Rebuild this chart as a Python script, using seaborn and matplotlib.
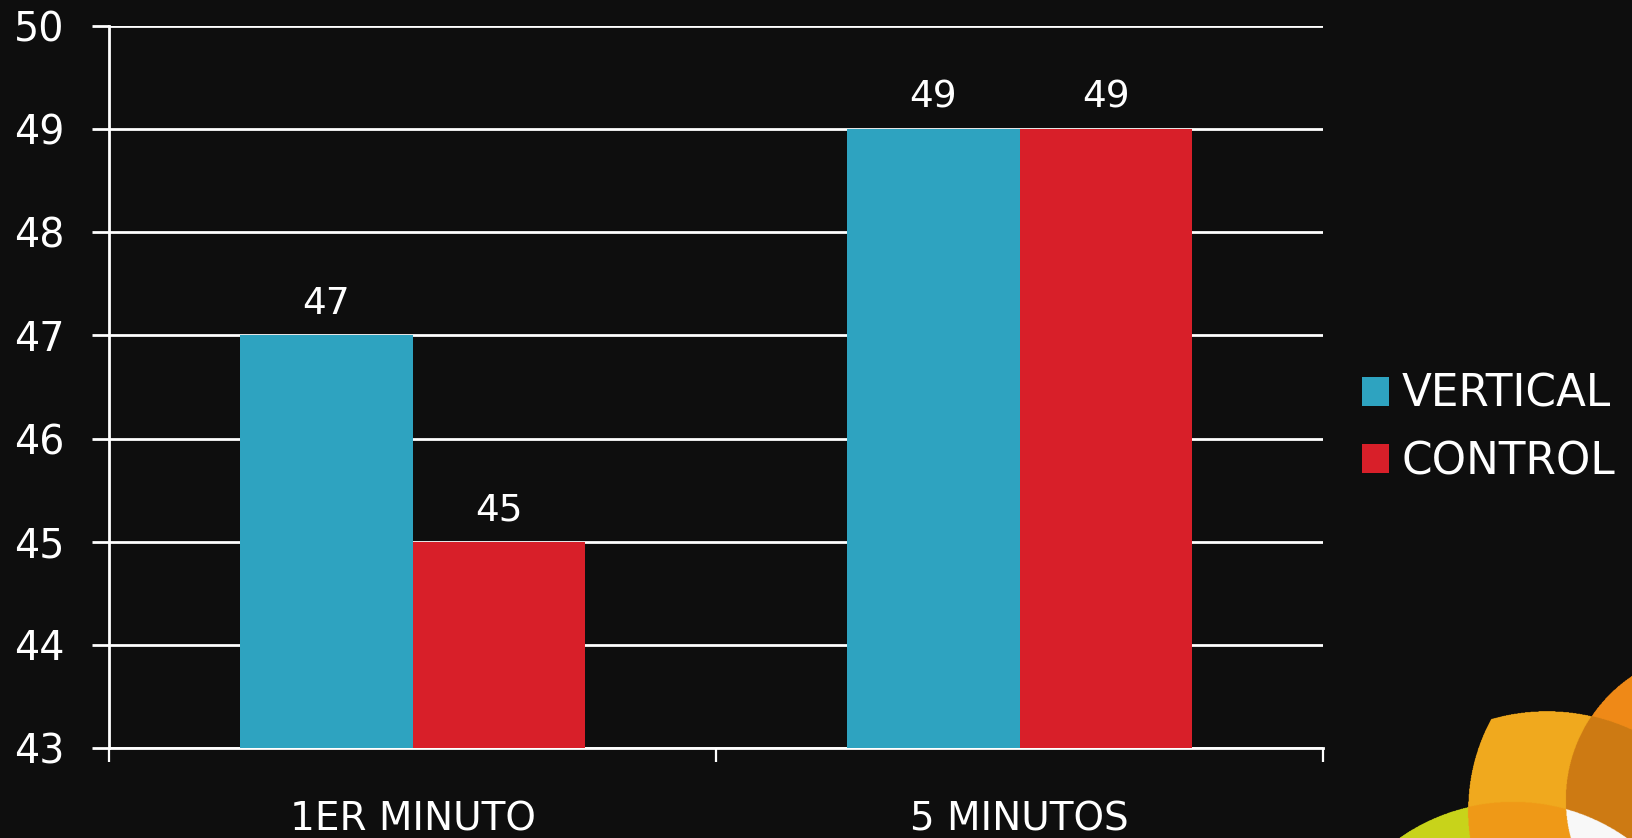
import numpy as np
import pandas as pd
import matplotlib
matplotlib.use("Agg")
import matplotlib.pyplot as plt
from matplotlib.patches import Patch
import seaborn as sns

# --- data -------------------------------------------------------------
categories = ["1ER MINUTO", "5 MINUTOS"]
series_names = ["VERTICAL", "CONTROL"]
vertical = [47, 49]
control = [45, 49]
y_ticks = [43, 44, 45, 46, 47, 48, 49, 50]

BG = "#0e0e0e"
BLUE = "#2ea3c0"
RED = "#d81f29"

df = pd.DataFrame({
    "grupo": categories * 2,
    "serie": [series_names[0]] * len(categories) + [series_names[1]] * len(categories),
    "valor": vertical + control,
})

sns.set_theme(style="dark")
plt.rcParams["font.family"] = ["DejaVu Sans"]

W, H = 1633, 838
fig = plt.figure(figsize=(W / 100, H / 100), dpi=100, facecolor=BG)

# --- decorative petals in the lower-right corner ----------------------
bg = fig.add_axes([0, 0, 1, 1], zorder=-1)
bg.set_xlim(0, W)
bg.set_ylim(H, 0)
bg.axis("off")
bg.set_facecolor(BG)

x0, x1, y0, y1 = 1380, W, 640, H
ss = 2
xs = np.linspace(x0, x1, (x1 - x0) * ss)
ys = np.linspace(y0, y1, (y1 - y0) * ss)
X, Y = np.meshgrid(xs, ys)

def disc(cx, cy, r):
    return (X - cx) ** 2 + (Y - cy) ** 2 <= r ** 2

def rgb(h):
    h = h.lstrip("#")
    return [int(h[i:i + 2], 16) / 255 for i in (0, 2, 4)]

orange = disc(1716, 800, 150)
green = disc(1513, 1000, 198)
petal = disc(1660, 810, 192) & disc(1547, 914, 203)

img = np.zeros(X.shape + (4,))
for mask, col in [
    (orange, "#ef8a17"),
    (green, "#c8d41a"),
    (petal, "#f0a91e"),
    (petal & orange, "#cd7a13"),
    (petal & green, "#ef9a17"),
    (green & orange, "#f8f8f8"),
]:
    img[mask, :3] = rgb(col)
    img[mask, 3] = 1.0

bg.imshow(img, extent=(x0, x1, y1, y0), origin="upper",
          interpolation="antialiased", aspect="auto")

# --- bar chart --------------------------------------------------------
ax = fig.add_axes([109 / W, (H - 748) / H, (1323 - 109) / W, (748 - 26) / H])
ax.set_facecolor("none")

sns.barplot(data=df, x="grupo", y="valor", hue="serie",
            palette=[BLUE, RED], width=0.57, saturation=1,
            ax=ax, legend=False, errorbar=None, zorder=3,
            linewidth=0, edgecolor="none")

ax.set_xlim(-0.5, 1.5)
ax.set_ylim(43, 50)
ax.set_yticks(y_ticks)
ax.set_xlabel("")
ax.set_ylabel("")

ax.yaxis.grid(True, color="white", linewidth=2.0, zorder=0)
ax.xaxis.grid(False)
ax.set_axisbelow(True)

for side in ("top", "right"):
    ax.spines[side].set_visible(False)
for side in ("left", "bottom"):
    ax.spines[side].set_visible(True)
    ax.spines[side].set_color("white")
    ax.spines[side].set_linewidth(2.0)

ax.tick_params(axis="y", colors="white", labelsize=28.5, length=12,
               width=2.0, pad=20, direction="out", left=True)
ax.tick_params(axis="x", colors="white", labelsize=28, length=0, pad=38)
ax.set_xticks(range(len(categories)))
ax.set_xticklabels(categories)
ax.set_xticks([-0.5, 0.5, 1.5], minor=True)
ax.tick_params(axis="x", which="minor", length=10, width=1.6,
               color="white", direction="out", bottom=True)

for cont in ax.containers:
    ax.bar_label(cont, labels=[f"{v:g}" for v in cont.datavalues],
                 padding=9.5, fontsize=27, color="white")

handles = [Patch(facecolor=BLUE, edgecolor="none"),
           Patch(facecolor=RED, edgecolor="none")]
fig.legend(handles, series_names, loc="center left",
           bbox_to_anchor=(1362 / W, 1 - 428 / H), frameon=False,
           fontsize=31.5, labelcolor="white", handlelength=0.62,
           handleheight=0.62, handletextpad=0.28, labelspacing=0.55,
           borderpad=0, borderaxespad=0)

fig.savefig("out.png", dpi=100, facecolor=BG)
